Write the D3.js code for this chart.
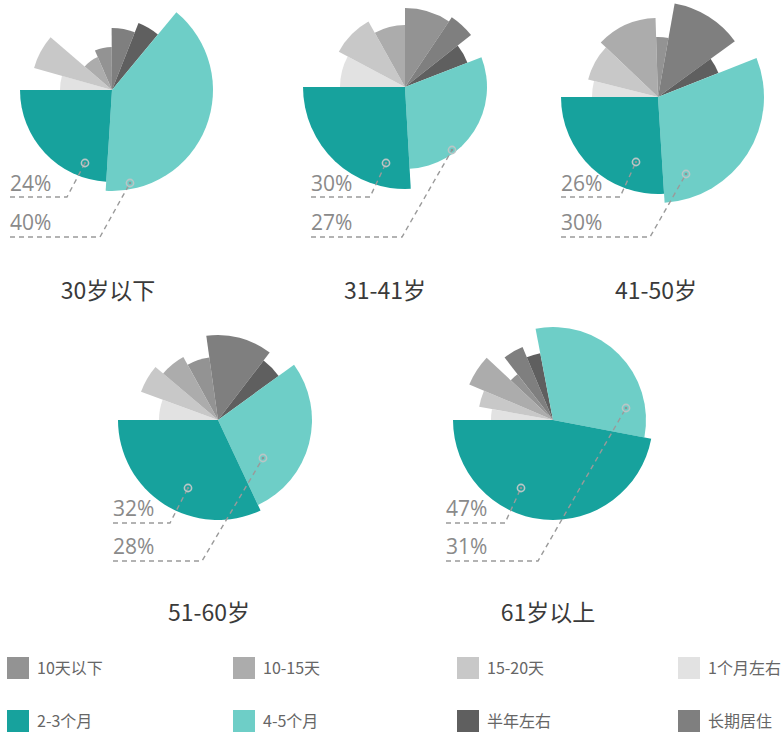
<!DOCTYPE html>
<html>
<head>
<meta charset="utf-8">
<script src="https://cdn.jsdelivr.net/npm/d3@7/dist/d3.min.js"></script>
<style>
  body { margin: 0; background: #fff; }
  svg { display: block; font-family: "Noto Sans CJK SC", "Noto Sans", sans-serif; }
</style>
</head>
<body>
<svg id="chart" width="784" height="738"></svg>
<script>
// stay length categories, in legend order
var categories = ["10天以下", "10-15天", "15-20天", "1个月左右", "2-3个月", "4-5个月", "半年左右", "长期居住"];
var ageGroups = ["30岁以下", "31-41岁", "41-50岁", "51-60岁", "61岁以上"];

// angular share (%) of each category
var share30 = [6.4, 7.2, 6.9, 4.4, 24, 40, 5.0, 6.1];
var share31 = [9.4, 8.1, 9.1, 7.8, 25.9, 30, 4.7, 5.0];
var share41 = [3.3, 12.4, 8.2, 3.9, 26, 30, 4.0, 12.2];
var share51 = [5.8, 5.8, 5.6, 5.6, 32, 28, 4.6, 12.6];
var share61 = [2.5, 5.6, 3.6, 2.8, 47, 31, 3.3, 4.2];

// radial length of each slice
var reach30 = [43, 36, 81, 52, 92, 101, 72, 62];
var reach31 = [79, 62, 75, 65, 102, 82, 67, 84];
var reach41 = [60, 79, 72, 66, 97, 106, 65, 95];
var reach51 = [63, 72, 82, 59, 100, 94, 75, 85];
var reach61 = [58, 91, 75, 62, 100, 93, 68, 79];

// printed labels for 2-3个月 and 4-5个月
var labels30 = ["24%", "40%"];
var labels31 = ["30%", "27%"];
var labels41 = ["26%", "30%"];
var labels51 = ["32%", "28%"];
var labels61 = ["47%", "31%"];

var colors = ["#939393", "#acacac", "#c8c8c8", "#e2e2e2", "#17a29d", "#6ecec7", "#5f5f5f", "#7f7f7f"];

function init() {
  var svg = d3.select("#chart");

  var series = [
    { name: ageGroups[0], share: share30, reach: reach30, labels: labels30 },
    { name: ageGroups[1], share: share31, reach: reach31, labels: labels31 },
    { name: ageGroups[2], share: share41, reach: reach41, labels: labels41 },
    { name: ageGroups[3], share: share51, reach: reach51, labels: labels51 },
    { name: ageGroups[4], share: share61, reach: reach61, labels: labels61 }
  ];

  // where each pie and its callouts sit
  var layout = [
    { cx: 112, cy: 90, tx: 108, ty: 299, lx: 10, rows: [[191, 197, 67], [230, 237, 100]], dots: [[-27, 73], [18, 93]] },
    { cx: 405, cy: 87, tx: 385, ty: 299, lx: 311, rows: [[191, 197, 370], [230, 237, 402]], dots: [[-19, 76], [47, 63]] },
    { cx: 658, cy: 97, tx: 656, ty: 299, lx: 561, rows: [[191, 197, 620], [230, 237, 650]], dots: [[-22, 65], [28, 77]] },
    { cx: 218, cy: 420, tx: 209, ty: 621, lx: 113, rows: [[516, 523, 170], [554, 561, 202]], dots: [[-30, 68], [45, 38]] },
    { cx: 553, cy: 420, tx: 548, ty: 621, lx: 446, rows: [[516, 523, 505], [554, 561, 538]], dots: [[-32, 68], [73, -12]] }
  ];

  var r = d3.scaleLinear().domain([0, 100]).range([0, 100]);
  // slices run clockwise from 9 o'clock in this order
  var order = [3, 2, 1, 0, 7, 6, 5, 4];

  series.forEach(function (s, k) {
    var L = layout[k];
    var g = svg.append("g").attr("transform", "translate(" + L.cx + "," + L.cy + ")");

    var pie = d3.pie()
      .sort(null)
      .startAngle(-Math.PI / 2)
      .endAngle(Math.PI * 1.5)
      .value(function (i) { return s.share[i]; });

    var arc = d3.arc()
      .innerRadius(0)
      .outerRadius(function (d) { return r(s.reach[d.data]); });

    g.selectAll("path.slice")
      .data(pie(order))
      .enter().append("path")
      .attr("class", "slice")
      .attr("d", arc)
      .attr("fill", function (d) { return colors[d.data]; });

    // callouts for the two teal slices
    s.labels.forEach(function (lab, j) {
      var row = L.rows[j];
      var dot = [L.cx + L.dots[j][0], L.cy + L.dots[j][1]];
      svg.append("path")
        .attr("d", d3.line()([[L.lx, row[1]], [row[2], row[1]], dot]))
        .attr("fill", "none")
        .attr("stroke", "#9a9a9a")
        .attr("stroke-width", 1.4)
        .attr("stroke-dasharray", "5,4");
      svg.append("circle")
        .attr("cx", dot[0]).attr("cy", dot[1]).attr("r", 3.6)
        .attr("fill", "none")
        .attr("stroke", "#b9c6c6")
        .attr("stroke-width", 1.6);
      svg.append("circle")
        .attr("cx", dot[0]).attr("cy", dot[1]).attr("r", 1.3)
        .attr("fill", "#8a9797");
      svg.append("text")
        .attr("x", L.lx).attr("y", row[0])
        .attr("font-family", "'Open Sans', 'Liberation Sans', sans-serif")
        .attr("font-size", 21)
        .attr("fill", "#8a8a8a")
        .text(lab);
    });

    svg.append("text")
      .attr("x", L.tx).attr("y", L.ty)
      .attr("text-anchor", "middle")
      .attr("font-size", 23)
      .attr("fill", "#3a3a3a")
      .text(s.name);
  });

  // legend, 4 columns x 2 rows
  var colX = [7, 233, 457, 678];
  var rowY = [668, 721];
  var legend = svg.selectAll("g.legend")
    .data(categories)
    .enter().append("g")
    .attr("class", "legend")
    .attr("transform", function (d, i) {
      return "translate(" + colX[i % 4] + "," + rowY[Math.floor(i / 4)] + ")";
    });

  legend.append("rect")
    .attr("x", 0).attr("y", -11)
    .attr("width", 22).attr("height", 22)
    .attr("fill", function (d, i) { return colors[i]; });

  legend.append("text")
    .attr("x", 30).attr("y", 6)
    .attr("font-size", 16)
    .attr("fill", "#666")
    .text(function (d) { return d; });
}

window.addEventListener("DOMContentLoaded", init);
</script>
</body>
</html>
